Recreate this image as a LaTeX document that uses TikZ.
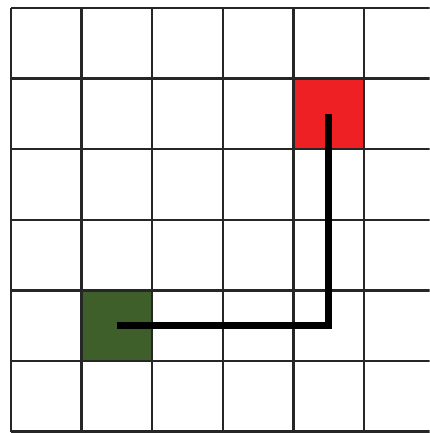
\documentclass[tikz,border=0pt]{standalone}
\usepackage{xcolor}
\usepackage{tikz}
\usetikzlibrary{positioning}

\definecolor{startgreen}{RGB}{62,95,42}
\definecolor{goalred}{RGB}{238,32,36}

\begin{document}
\begin{tikzpicture}[
  cell/.style={draw=none, minimum size=1cm, inner sep=0pt, outer sep=0pt},
  gridline/.style={draw=black!85, line width=1pt},
  route/.style={draw=black, line width=2.6pt}
]
\clip (-0.155,-0.02) rectangle (5.93,6.113);
\node[cell, fill=startgreen] (start) at (1.5,1.5) {};
\node[cell, fill=goalred] (goal) at (4.5,4.5) {};
\draw[gridline] (0,0) grid (7,6);
\draw[route] (start.center) -| (goal.center);
\end{tikzpicture}
\end{document}
